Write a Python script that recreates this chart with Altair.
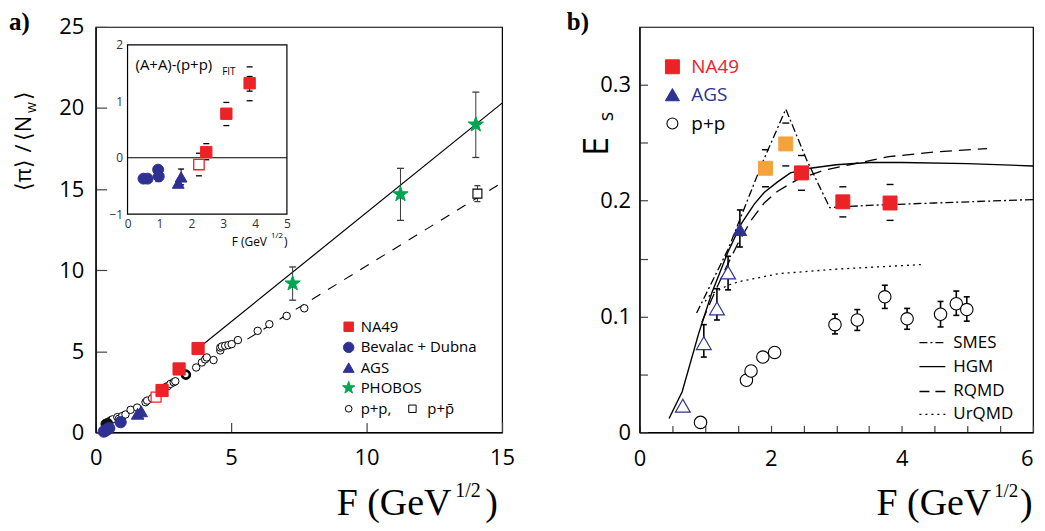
import altair as alt
import pandas as pd

SANS = "Open Sans"
SERIF = "Liberation Serif"
RED = "#EC2227"
BLUE = "#2E3192"
GREEN = "#00A651"
ORANGE = "#F4A23B"
GREY = "#3a3a3a"
STAR = ("M0,-1L0.235,-0.324L0.951,-0.309L0.38,0.124L0.588,0.809L0,0.4"
        "L-0.588,0.809L-0.38,0.124L-0.951,-0.309L-0.235,-0.324Z")

# ---------------- panel a : main ----------------
na49_F = [2.45, 3.08, 3.78]
na49_pi = [2.58, 3.91, 5.17]
cc_F = [2.23]
cc_pi = [2.17]
bev_F = [0.30, 0.36, 0.43, 0.50, 0.92]
bev_pi = [0.05, 0.11, 0.18, 0.25, 0.63]
ags_F = [1.55, 1.68]
ags_pi = [1.15, 1.30]
phobos_F = [7.27, 11.25, 14.03]
phobos_pi = [9.18, 14.68, 18.98]
phobos_lo = [8.15, 13.07, 16.95]
phobos_hi = [10.20, 16.28, 20.98]
ppbar_F = [14.09]
ppbar_pi = [14.72]
ppbar_lo = [14.23]
ppbar_hi = [15.21]
pp_F = [0.55, 0.62, 0.80, 0.86, 0.98, 1.10, 1.29, 1.53, 1.84, 1.90, 2.08, 2.57,
        2.66, 2.76, 2.88, 2.94, 3.71, 3.92, 4.04, 4.10, 4.35, 4.60, 4.60, 4.66,
        4.78, 4.90, 5.02, 5.25, 5.98, 6.41, 7.05, 7.70]
pp_pi = [0.74, 0.80, 0.94, 0.84, 1.00, 1.10, 1.39, 1.53, 1.86, 1.96, 2.10, 2.78,
         2.85, 2.99, 3.09, 3.15, 4.00, 4.31, 4.50, 4.62, 4.46, 5.05, 5.23, 5.30,
         5.34, 5.38, 5.44, 5.69, 6.26, 6.67, 7.18, 7.65]
ppdark_F = [0.37, 0.45]
ppdark_pi = [0.52, 0.57]
ppbold_F = [3.33]
ppbold_pi = [3.56]
aafit_F = [3.80, 15.0]
aafit_pi = [5.20, 20.30]
ppfit_F = [5.60, 15.0]
ppfit_pi = [5.75, 15.40]

# ---------------- panel a : inset ----------------
in_bev_F = [0.50, 0.63, 0.96, 0.98]
in_bev_d = [-0.37, -0.37, -0.21, -0.33]
in_bev_errF = [0.97]
in_bev_lo = [-0.42]
in_bev_hi = [-0.18]
in_ags_F = [1.59, 1.68]
in_ags_d = [-0.45, -0.34]
in_ags_errF = [1.68]
in_ags_lo = [-0.48]
in_ags_hi = [-0.20]
in_na49_F = [2.47, 3.10, 3.83]
in_na49_d = [0.10, 0.78, 1.32]
in_na49_syslo = [-0.035, 0.57, 1.01]
in_na49_syshi = [0.25, 0.98, 1.61]
in_na49_statF = [3.83]
in_na49_statlo = [1.18]
in_na49_stathi = [1.44]
in_cc_F = [2.24]
in_cc_d = [-0.12]
in_cc_syslo = [-0.32]
in_cc_syshi = [0.08]

# ---------------- panel b ----------------
b_na49_F = [2.47, 3.10, 3.82]
b_na49_E = [0.224, 0.199, 0.198]
b_na49_lo = [0.209, 0.186, 0.183]
b_na49_hi = [0.239, 0.212, 0.214]
b_or_F = [1.92, 2.23]
b_or_E = [0.228, 0.249]
b_or_lo = [0.212, 0.230]
b_or_hi = [0.244, 0.267]
b_ags_F = [1.53]
b_ags_E = [0.175]
b_ags_lo = [0.160]
b_ags_hi = [0.192]
b_agso_F = [0.66, 0.98, 1.18, 1.35]
b_agso_E = [0.023, 0.077, 0.107, 0.138]
b_agso_errF = [0.98, 1.18, 1.35]
b_agso_lo = [0.065, 0.097, 0.123]
b_agso_hi = [0.093, 0.124, 0.152]
b_pp_F = [0.93, 1.63, 1.70, 1.88, 2.06, 2.98, 3.32, 3.74, 4.08, 4.59, 4.83, 4.99]
b_pp_E = [0.0086, 0.045, 0.053, 0.065, 0.069, 0.093, 0.097, 0.117, 0.098, 0.102, 0.111, 0.106]
b_pp_errF = [2.98, 3.32, 3.74, 4.08, 4.59, 4.83, 4.99]
b_pp_lo = [0.085, 0.088, 0.107, 0.089, 0.091, 0.101, 0.096]
b_pp_hi = [0.102, 0.106, 0.127, 0.107, 0.113, 0.122, 0.117]
hgm_F = [0.45, 0.65, 0.90, 1.10, 1.35, 1.55, 1.75, 1.90, 2.10, 2.30, 2.60, 3.00, 3.50, 4.00, 5.00, 6.00]
hgm_E = [0.012, 0.035, 0.085, 0.120, 0.156, 0.180, 0.197, 0.207, 0.216, 0.224, 0.228, 0.231, 0.233, 0.233, 0.232, 0.230]
rqmd_F = [0.95, 1.10, 1.30, 1.50, 1.70, 1.90, 2.10, 2.40, 2.80, 3.20, 3.80, 4.50, 5.30]
rqmd_E = [0.095, 0.115, 0.140, 0.163, 0.183, 0.198, 0.208, 0.218, 0.226, 0.231, 0.238, 0.242, 0.245]
smes_F = [0.87, 1.35, 1.86, 2.23, 2.55, 2.90, 3.50, 4.50, 6.00]
smes_E = [0.103, 0.158, 0.231, 0.279, 0.235, 0.194, 0.196, 0.198, 0.201]
urqmd_F = [1.00, 1.08, 1.35, 1.51, 2.12, 3.03, 4.35]
urqmd_E = [0.113, 0.119, 0.127, 0.130, 0.137, 0.141, 0.145]

ONE = alt.Data(values=[{"k": 0}])


def neg(v):
    return {"expr": str(-v)}


# ---------- scales / axes ----------
ax_ax = alt.Axis(values=[0, 5, 10, 15], title=None, tickSize=neg(10), labelPadding=25,
                 labelFontSize=22, grid=False, labelFlush=False)
ay_ax = alt.Axis(values=[0, 5, 10, 15, 20, 25], title=None, tickSize=neg(11), labelPadding=23,
                 labelFontSize=22, grid=False, labelFlush=False)
sx_a = alt.Scale(domain=[0, 15], nice=False, zero=False)
sy_a = alt.Scale(domain=[0, 25], nice=False, zero=False)

ix_ax = alt.Axis(values=[0, 1, 2, 3, 4, 5], title=None, ticks=False, labelPadding=4,
                 labelFontSize=12, labelColor="#333333", orient="bottom", offset=-219,
                 domain=False, grid=False, labelFlush=False)
iy_ax = alt.Axis(values=[-1, 0, 1, 2], title=None, ticks=False, labelPadding=5,
                 labelFontSize=12, labelColor="#333333", orient="left", offset=-32,
                 domain=False, grid=False, labelFlush=False)
sx_i = alt.Scale(domain=[0, 5], range=[32, 192], nice=False, zero=False)
sy_i = alt.Scale(domain=[-1, 2], range=[188, 18], nice=False, zero=False)

bx_ax = alt.Axis(values=[i * 0.5 for i in range(13)], title=None, tickSize=neg(7),
                 labelPadding=23, labelFontSize=22, grid=False, labelFlush=False,
                 labelAlign={"condition": {"test": "datum.value >= 6", "value": "right"},
                             "value": "center"},
                 labelExpr="datum.value % 2 == 0 ? format(datum.value, 'd') : ''")
by_ax = alt.Axis(values=[i * 0.05 for i in range(7)], title=None, tickSize=neg(8),
                 labelPadding=17, labelFontSize=22, grid=False, labelFlush=False,
                 labelExpr="abs(datum.value*10 - round(datum.value*10)) < 0.001 ? format(datum.value, '.1~f') : ''")
sx_b = alt.Scale(domain=[0, 6], nice=False, zero=False)
sy_b = alt.Scale(domain=[0, 0.35], nice=False, zero=False)

AX = dict(a=(sx_a, ax_ax, sy_a, ay_ax), i=(sx_i, ix_ax, sy_i, iy_ax), b=(sx_b, bx_ax, sy_b, by_ax))


def X(p, f="F"):
    return alt.X(f + ":Q", scale=AX[p][0], axis=AX[p][1])


def Y(p, f="v"):
    return alt.Y(f + ":Q", scale=AX[p][2], axis=AX[p][3])


def pts(p, F, v, shape, size, fill, stroke, sw=1.0):
    d = pd.DataFrame({"F": F, "v": v})
    return alt.Chart(d).mark_point(shape=shape, size=size, filled=True, fill=fill,
                                   stroke=stroke, strokeWidth=sw, opacity=1).encode(x=X(p), y=Y(p))


def vbar(p, F, lo, hi, color=GREY, sw=1.0):
    d = pd.DataFrame({"F": F, "lo": lo, "hi": hi})
    return alt.Chart(d).mark_rule(color=color, strokeWidth=sw).encode(
        x=X(p), y=Y(p, "lo"), y2=alt.Y2("hi:Q"))


def caps(p, F, vals, w=7, color="black", th=1.3):
    d = pd.DataFrame({"F": F, "c": vals})
    return alt.Chart(d).mark_tick(orient="horizontal", size=w, thickness=th, color=color,
                                  opacity=1).encode(x=X(p), y=Y(p, "c"))


def line(p, F, v, color="black", sw=1.3, dash=None):
    d = pd.DataFrame({"F": F, "v": v})
    kw = dict(color=color, strokeWidth=sw)
    if dash:
        kw["strokeDash"] = dash
    return alt.Chart(d).mark_line(**kw).encode(x=X(p), y=Y(p))


def txt(s, x, y, size, color="black", font=SANS, align="left", baseline="middle",
        angle=0, weight="normal"):
    return alt.Chart(ONE).mark_text(text=s, fontSize=size, color=color, font=font, align=align,
                                    baseline=baseline, angle=angle, fontWeight=weight).encode(
        x=alt.value(x), y=alt.value(y))


def sym(x, y, shape, size, fill, stroke, sw=1.0):
    return alt.Chart(ONE).mark_point(shape=shape, size=size, filled=True, fill=fill, stroke=stroke,
                                     strokeWidth=sw, opacity=1).encode(x=alt.value(x), y=alt.value(y))


def seg(x1, x2, y, dash=None, sw=1.3):
    kw = dict(color="black", strokeWidth=sw)
    if dash:
        kw["strokeDash"] = dash
    return alt.Chart(ONE).mark_rule(**kw).encode(x=alt.value(x1), x2=alt.value(x2), y=alt.value(y))


NB = "\u00a0"

# ---------- panel a main ----------
main_a = alt.layer(
    line("a", ppfit_F, ppfit_pi, dash=[10, 9], sw=1.1),
    line("a", aafit_F, aafit_pi, sw=1.2),
    vbar("a", phobos_F, phobos_lo, phobos_hi),
    caps("a", phobos_F, phobos_lo, 7, GREY), caps("a", phobos_F, phobos_hi, 7, GREY),
    vbar("a", ppbar_F, ppbar_lo, ppbar_hi),
    caps("a", ppbar_F, ppbar_lo, 6, GREY), caps("a", ppbar_F, ppbar_hi, 6, GREY),
    pts("a", pp_F, pp_pi, "circle", 56, "white", "black", 1.0),
    pts("a", ppbold_F, ppbold_pi, "circle", 64, "white", "black", 2.6),
    pts("a", ppdark_F, ppdark_pi, "circle", 90, "#111111", "#111111"),
    pts("a", bev_F, bev_pi, "circle", 130, BLUE, BLUE),
    pts("a", ags_F, ags_pi, "triangle-up", 160, BLUE, BLUE),
    pts("a", cc_F, cc_pi, "square", 100, "white", RED, 1.2),
    pts("a", na49_F, na49_pi, "square", 150, RED, RED),
    pts("a", phobos_F, phobos_pi, STAR, 260, GREEN, GREEN),
    pts("a", ppbar_F, ppbar_pi, "square", 81, "white", "black", 1.1),
    # legend
    sym(254, 301, "square", 90, RED, RED), txt("NA49", 266, 301, 15),
    sym(254, 321.7, "circle", 110, BLUE, BLUE), txt("Bevalac + Dubna", 266, 321.7, 15),
    sym(254, 342, "triangle-up", 120, BLUE, BLUE), txt("AGS", 266, 342, 15),
    sym(254, 362.3, STAR, 170, GREEN, GREEN), txt("PHOBOS", 266, 362.3, 15),
    sym(254, 383.3, "circle", 45, "white", "black", 1.0), txt("p+p,", 266, 383.3, 15),
    sym(318, 383.3, "square", 55, "white", "black", 1.0), txt("p+p\u0304", 333, 383.3, 15),
    # axis titles and panel label
    txt("a)", -87, -17, 25, font=SERIF, baseline="top", weight="bold"),
    txt("F" + NB + "(GeV", 357, 490, 38, font=SERIF, align="right", baseline="alphabetic"),
    txt("1/2", 361, 472, 20, font=SERIF, baseline="alphabetic"),
    txt(")", 391, 490, 38, font=SERIF, baseline="alphabetic"),
    txt("\u27e8\u03c0\u27e9", -65, 149, 22, align="center", baseline="alphabetic", angle=270),
    txt("/", -65, 122, 22, align="center", baseline="alphabetic", angle=270),
    txt("\u27e8N", -65, 102, 22, align="center", baseline="alphabetic", angle=270),
    txt("w", -60, 81, 14, align="center", baseline="alphabetic", angle=270),
    txt("\u27e9", -65, 69, 22, align="center", baseline="alphabetic", angle=270),
    # inset titles
    txt("(A+A)-(p+p)", 40, 38, 15),
    txt("FIT", 127, 45, 10),
    txt("F (GeV", 172, 216, 12, align="right"),
    txt("1/2", 176, 210, 8),
    txt(")", 189, 216, 12),
)

frame_df = pd.DataFrame({"F": [0.0], "F2": [5.0], "v": [-1.0], "v2": [2.0]})
zero_df = pd.DataFrame({"F": [0.0], "F2": [5.0], "v": [0.0]})
inset = alt.layer(
    alt.Chart(frame_df).mark_rect(fill="white", fillOpacity=0, stroke="black", strokeWidth=1.2).encode(
        x=X("i"), x2=alt.X2("F2:Q"), y=Y("i"), y2=alt.Y2("v2:Q")),
    alt.Chart(zero_df).mark_rule(color="black", strokeWidth=1.2).encode(
        x=X("i"), x2=alt.X2("F2:Q"), y=Y("i")),
    vbar("i", in_bev_errF, in_bev_lo, in_bev_hi, "black"),
    caps("i", in_bev_errF, in_bev_lo, 6), caps("i", in_bev_errF, in_bev_hi, 6),
    vbar("i", in_ags_errF, in_ags_lo, in_ags_hi, "black"),
    caps("i", in_ags_errF, in_ags_lo, 6), caps("i", in_ags_errF, in_ags_hi, 6),
    vbar("i", in_na49_statF, in_na49_statlo, in_na49_stathi, "black"),
    caps("i", in_na49_statF, in_na49_statlo, 6), caps("i", in_na49_statF, in_na49_stathi, 6),
    caps("i", in_na49_F, in_na49_syslo, 6), caps("i", in_na49_F, in_na49_syshi, 6),
    caps("i", in_cc_F, in_cc_syslo, 6), caps("i", in_cc_F, in_cc_syshi, 6),
    pts("i", in_bev_F, in_bev_d, "circle", 120, BLUE, BLUE),
    pts("i", in_ags_F, in_ags_d, "triangle-up", 140, BLUE, BLUE),
    pts("i", in_cc_F, in_cc_d, "square", 110, "white", RED, 1.3),
    pts("i", in_na49_F, in_na49_d, "square", 130, RED, RED),
)

panel_a = alt.layer(main_a, inset).resolve_scale(x="independent", y="independent").properties(
    width=408, height=407)

# ---------- panel b ----------
panel_b = alt.layer(
    line("b", urqmd_F, urqmd_E, dash=[2, 4], sw=1.3),
    line("b", rqmd_F, rqmd_E, dash=[12, 7], sw=1.3),
    line("b", smes_F, smes_E, dash=[8, 3, 2, 3], sw=1.3),
    line("b", hgm_F, hgm_E, sw=1.4),
    vbar("b", b_pp_errF, b_pp_lo, b_pp_hi, "black", 1.6),
    caps("b", b_pp_errF, b_pp_lo, 6, th=1.6), caps("b", b_pp_errF, b_pp_hi, 6, th=1.6),
    vbar("b", b_agso_errF, b_agso_lo, b_agso_hi, "black", 1.6),
    caps("b", b_agso_errF, b_agso_lo, 6, th=1.6), caps("b", b_agso_errF, b_agso_hi, 6, th=1.6),
    vbar("b", b_ags_F, b_ags_lo, b_ags_hi, "black", 1.6),
    caps("b", b_ags_F, b_ags_lo, 6, th=1.6), caps("b", b_ags_F, b_ags_hi, 6, th=1.6),
    caps("b", b_na49_F, b_na49_lo, 7, th=1.4), caps("b", b_na49_F, b_na49_hi, 7, th=1.4),
    caps("b", b_or_F, b_or_lo, 7, th=1.4), caps("b", b_or_F, b_or_hi, 7, th=1.4),
    pts("b", b_pp_F, b_pp_E, "circle", 156, "white", "black", 1.1),
    pts("b", b_agso_F, b_agso_E, "triangle-up", 220, "white", BLUE, 1.2),
    pts("b", b_ags_F, b_ags_E, "triangle-up", 190, BLUE, BLUE),
    pts("b", b_or_F, b_or_E, "square", 196, ORANGE, ORANGE),
    pts("b", b_na49_F, b_na49_E, "square", 196, RED, RED),
    # legends
    sym(33, 40, "square", 196, RED, RED), txt("NA49", 52, 40, 19, color=RED),
    sym(33, 68, "triangle-up", 200, BLUE, BLUE), txt("AGS", 52, 68, 19, color=BLUE),
    sym(33, 97, "circle", 121, "white", "black", 1.1), txt("p+p", 52, 97, 19),
    seg(281, 307, 317, dash=[8, 3, 2, 3]), txt("SMES", 315, 317, 17),
    seg(281, 307, 341), txt("HGM", 315, 341, 17),
    seg(281, 307, 366, dash=[10, 6]), txt("RQMD", 315, 366, 17),
    seg(281, 307, 389, dash=[2, 4]), txt("UrQMD", 315, 389, 17),
    # titles
    txt("b)", -73, -17, 25, font=SERIF, baseline="top", weight="bold"),
    txt("F" + NB + "(GeV", 353, 490, 38, font=SERIF, align="right", baseline="alphabetic"),
    txt("1/2", 356, 472, 19, font=SERIF, baseline="alphabetic"),
    txt(")", 382, 490, 38, font=SERIF, baseline="alphabetic"),
    txt("E", -32, 120, 34, align="center", baseline="alphabetic", angle=270),
    txt("s", -27, 90, 20, align="center", baseline="alphabetic", angle=270),
).properties(width=395, height=407)

chart = alt.hconcat(panel_a, panel_b, spacing=138, bounds="flush").properties(
    padding={"left": 0, "top": 0, "right": 0, "bottom": 0}
).configure_view(stroke="black", strokeWidth=1.2).configure_axis(
    domainColor="black", tickColor="#444444", labelColor="black", labelFont=SANS,
    domainWidth=1.2, tickWidth=1.2
)

chart.save("out.html", embed_options={"renderer": "svg", "actions": False})
